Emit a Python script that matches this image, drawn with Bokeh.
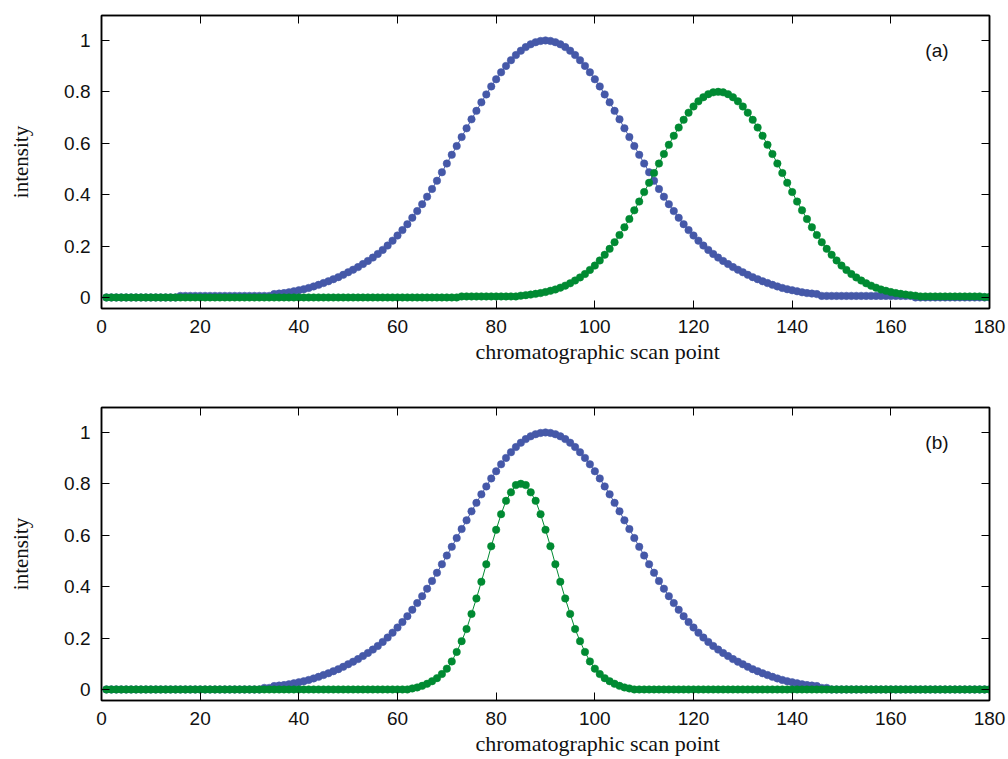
from bokeh.plotting import figure
from bokeh.models import Range1d, LinearAxis, FixedTicker, Label, Title
from bokeh.layouts import column
from bokeh.embed import file_html
from bokeh.resources import INLINE

scan = list(range(1, 181))

blue_a = [
    0, 0, 0, 0, 0, 0, 0, 0, 0, 0,
    0, 0, 0, 0, 0, 0.006, 0.006, 0.006, 0.006, 0.006,
    0.006, 0.006, 0.006, 0.006, 0.006, 0.006, 0.006, 0.006, 0.006, 0.006,
    0.006, 0.006, 0.006, 0.006, 0.013, 0.015, 0.017, 0.020, 0.024, 0.028,
    0.032, 0.037, 0.043, 0.049, 0.056, 0.063, 0.071, 0.079, 0.088, 0.098,
    0.108, 0.118, 0.130, 0.142, 0.155, 0.169, 0.185, 0.202, 0.221, 0.241,
    0.262, 0.285, 0.310, 0.336, 0.363, 0.392, 0.422, 0.454, 0.487, 0.521,
    0.555, 0.589, 0.624, 0.658, 0.693, 0.726, 0.759, 0.790, 0.821, 0.849,
    0.876, 0.901, 0.923, 0.943, 0.960, 0.974, 0.985, 0.993, 0.998, 1.000,
    0.998, 0.993, 0.985, 0.974, 0.960, 0.943, 0.923, 0.901, 0.876, 0.849,
    0.821, 0.790, 0.759, 0.726, 0.693, 0.658, 0.624, 0.589, 0.555, 0.521,
    0.487, 0.454, 0.422, 0.392, 0.363, 0.336, 0.310, 0.285, 0.262, 0.241,
    0.221, 0.202, 0.185, 0.169, 0.155, 0.142, 0.130, 0.118, 0.108, 0.098,
    0.088, 0.079, 0.071, 0.063, 0.056, 0.049, 0.043, 0.037, 0.032, 0.028,
    0.024, 0.020, 0.017, 0.015, 0.013, 0.006, 0.006, 0.006, 0.006, 0.006,
    0.006, 0.006, 0.006, 0.006, 0.006, 0.006, 0.006, 0.006, 0.006, 0.006,
    0.006, 0.006, 0.006, 0.006, 0, 0, 0, 0, 0, 0,
    0, 0, 0, 0, 0, 0, 0, 0, 0, 0,
]

green_a = [
    0, 0, 0, 0, 0, 0, 0, 0, 0, 0,
    0, 0, 0, 0, 0, 0, 0, 0, 0, 0,
    0, 0, 0, 0, 0, 0, 0, 0, 0, 0,
    0, 0, 0, 0, 0, 0, 0, 0, 0, 0,
    0, 0, 0, 0, 0, 0, 0, 0, 0, 0,
    0, 0, 0, 0, 0, 0, 0, 0, 0, 0,
    0, 0, 0, 0, 0, 0, 0, 0, 0, 0,
    0, 0, 0.004, 0.004, 0.004, 0.004, 0.004, 0.004, 0.004, 0.004,
    0.004, 0.004, 0.004, 0.004, 0.007, 0.009, 0.011, 0.014, 0.017, 0.021,
    0.026, 0.031, 0.038, 0.046, 0.055, 0.066, 0.078, 0.091, 0.107, 0.124,
    0.144, 0.166, 0.189, 0.215, 0.243, 0.273, 0.305, 0.339, 0.373, 0.410,
    0.446, 0.484, 0.521, 0.558, 0.594, 0.629, 0.661, 0.691, 0.719, 0.743,
    0.763, 0.779, 0.791, 0.798, 0.800, 0.798, 0.791, 0.779, 0.763, 0.743,
    0.719, 0.691, 0.661, 0.629, 0.594, 0.558, 0.521, 0.484, 0.446, 0.410,
    0.373, 0.339, 0.305, 0.273, 0.243, 0.215, 0.189, 0.166, 0.144, 0.124,
    0.107, 0.091, 0.078, 0.066, 0.055, 0.046, 0.038, 0.031, 0.026, 0.021,
    0.017, 0.014, 0.011, 0.009, 0.007, 0.004, 0.004, 0.004, 0.004, 0.004,
    0.004, 0.004, 0.004, 0.004, 0.004, 0.004, 0.004, 0.004, 0.002, 0.002,
]

blue_b = [
    0, 0, 0, 0, 0, 0, 0, 0, 0, 0,
    0, 0, 0, 0, 0, 0, 0, 0, 0, 0,
    0, 0, 0, 0, 0, 0, 0, 0, 0, 0,
    0, 0, 0.006, 0.006, 0.013, 0.015, 0.017, 0.020, 0.024, 0.028,
    0.032, 0.037, 0.043, 0.049, 0.056, 0.063, 0.071, 0.079, 0.088, 0.098,
    0.108, 0.118, 0.130, 0.142, 0.155, 0.169, 0.185, 0.202, 0.221, 0.241,
    0.262, 0.285, 0.310, 0.336, 0.363, 0.392, 0.422, 0.454, 0.487, 0.521,
    0.555, 0.589, 0.624, 0.658, 0.693, 0.726, 0.759, 0.790, 0.821, 0.849,
    0.876, 0.901, 0.923, 0.943, 0.960, 0.974, 0.985, 0.993, 0.998, 1.000,
    0.998, 0.993, 0.985, 0.974, 0.960, 0.943, 0.923, 0.901, 0.876, 0.849,
    0.821, 0.790, 0.759, 0.726, 0.693, 0.658, 0.624, 0.589, 0.555, 0.521,
    0.487, 0.454, 0.422, 0.392, 0.363, 0.336, 0.310, 0.285, 0.262, 0.241,
    0.221, 0.202, 0.185, 0.169, 0.155, 0.142, 0.130, 0.118, 0.108, 0.098,
    0.088, 0.079, 0.071, 0.063, 0.056, 0.049, 0.043, 0.037, 0.032, 0.028,
    0.024, 0.020, 0.017, 0.015, 0.013, 0.006, 0.006, 0, 0, 0,
    0, 0, 0, 0, 0, 0, 0, 0, 0, 0,
    0, 0, 0, 0, 0, 0, 0, 0, 0, 0,
    0, 0, 0, 0, 0, 0, 0, 0, 0, 0,
]

green_b = [
    0, 0, 0, 0, 0, 0, 0, 0, 0, 0,
    0, 0, 0, 0, 0, 0, 0, 0, 0, 0,
    0, 0, 0, 0, 0, 0, 0, 0, 0, 0,
    0, 0, 0, 0, 0, 0, 0, 0, 0, 0,
    0, 0, 0, 0, 0, 0, 0, 0, 0, 0,
    0, 0, 0, 0, 0, 0, 0, 0, 0, 0,
    0, 0, 0.004, 0.008, 0.014, 0.022, 0.032, 0.044, 0.060, 0.081,
    0.109, 0.146, 0.188, 0.235, 0.294, 0.354, 0.419, 0.487, 0.557, 0.621,
    0.682, 0.734, 0.767, 0.795, 0.800, 0.795, 0.767, 0.734, 0.682, 0.621,
    0.557, 0.487, 0.419, 0.354, 0.294, 0.235, 0.188, 0.146, 0.109, 0.081,
    0.060, 0.044, 0.032, 0.022, 0.014, 0.008, 0.004, 0, 0, 0,
    0, 0, 0, 0, 0, 0, 0, 0, 0, 0,
    0, 0, 0, 0, 0, 0, 0, 0, 0, 0,
    0, 0, 0, 0, 0, 0, 0, 0, 0, 0,
    0, 0, 0, 0, 0, 0, 0, 0, 0, 0,
    0, 0, 0, 0, 0, 0, 0, 0, 0, 0,
    0, 0, 0, 0, 0, 0, 0, 0, 0, 0,
    0, 0, 0, 0, 0, 0, 0, 0, 0, 0,
]

x_ticks = [0, 20, 40, 60, 80, 100, 120, 140, 160, 180]
y_ticks = [0, 0.2, 0.4, 0.6, 0.8, 1]
y_tick_labels = ["0", "0.2", "0.4", "0.6", "0.8", "1"]
x_label = "chromatographic scan point"
y_label = "intensity"
panel_tags = ["(a)", "(b)"]

BLUE = "#4558a8"
GREEN = "#008a32"
TICK_FONT = "Liberation Sans"
LABEL_FONT = "Liberation Serif"


def style_axis(ax, show_labels):
    ax.major_tick_in = 8
    ax.major_tick_out = 0
    ax.minor_tick_in = 0
    ax.minor_tick_out = 0
    ax.axis_line_color = "black"
    ax.axis_line_width = 1.5
    ax.major_tick_line_color = "black"
    ax.major_tick_line_width = 1
    if show_labels:
        ax.major_label_text_font = TICK_FONT
        ax.major_label_text_font_size = "19px"
        ax.major_label_text_color = "#111111"
        ax.major_label_standoff = 11
    else:
        ax.major_label_text_font_size = "0px"
        ax.major_label_standoff = 0


def make_panel(blue, green, tag, top, bottom):
    p = figure(
        frame_width=888, frame_height=293,
        x_range=Range1d(0, 180), y_range=Range1d(-0.043, 1.097),
        output_backend="svg", toolbar_location=None,
        min_border_left=101, min_border_right=19,
        min_border_top=top, min_border_bottom=bottom,
        background_fill_color="white", border_fill_color="white",
    )
    p.xgrid.visible = False
    p.ygrid.visible = False
    p.outline_line_color = "black"
    p.outline_line_width = 1.5

    p.xaxis.ticker = FixedTicker(ticks=x_ticks)
    p.yaxis.ticker = FixedTicker(ticks=y_ticks)
    p.yaxis.major_label_overrides = {t: s for t, s in zip(y_ticks, y_tick_labels)}
    for ax in p.xaxis + p.yaxis:
        style_axis(ax, True)
    p.yaxis.axis_label = y_label
    p.yaxis.axis_label_text_font = LABEL_FONT
    p.yaxis.axis_label_text_font_style = "normal"
    p.yaxis.axis_label_text_color = "#111111"
    p.yaxis.axis_label_text_font_size = "21px"
    p.yaxis.axis_label_standoff = 28

    top_ax = LinearAxis(ticker=FixedTicker(ticks=x_ticks))
    right_ax = LinearAxis(ticker=FixedTicker(ticks=y_ticks))
    style_axis(top_ax, False)
    style_axis(right_ax, False)
    p.add_layout(top_ax, "above")
    p.add_layout(right_ax, "right")

    # x-axis title, offset to the right as in the original figure
    xt = Title(text=x_label, align="left", offset=374, standoff=3,
               text_font=LABEL_FONT, text_font_size="22px",
               text_font_style="normal", text_color="#111111")
    p.add_layout(xt, "below")

    p.line(scan, blue, line_color=BLUE, line_width=1)
    p.scatter(scan, blue, size=7.5, fill_color=BLUE, line_color=BLUE, line_width=0.5)
    p.line(scan, green, line_color=GREEN, line_width=1)
    p.scatter(scan, green, size=7.5, fill_color=GREEN, line_color=GREEN, line_width=0.5)

    p.add_layout(Label(x=167, y=0.96, text=tag, text_font=TICK_FONT,
                       text_font_size="19px", text_color="#111111",
                       text_baseline="middle", text_align="left"))
    return p


pa = make_panel(blue_a, green_a, panel_tags[0], 15, 84)
pb = make_panel(blue_b, green_b, panel_tags[1], 15, 59)

layout = column(pa, pb, spacing=0)
open("out.html", "w").write(file_html(layout, INLINE))
